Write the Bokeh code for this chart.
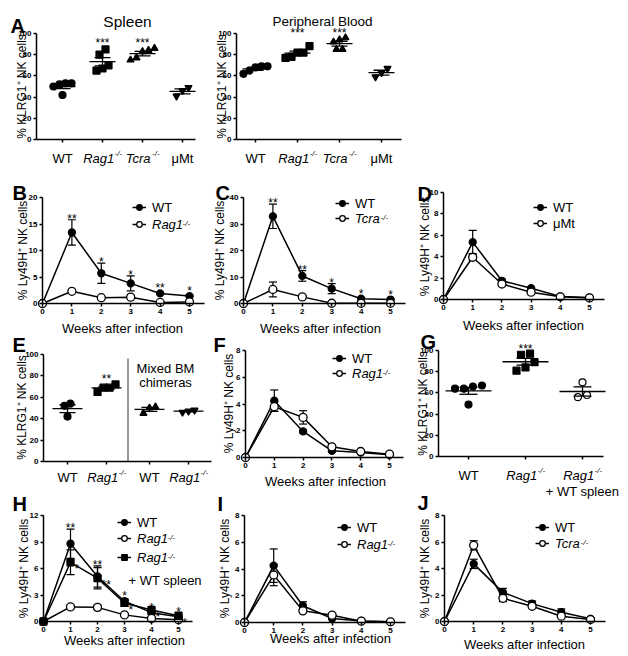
import numpy as np
from math import pi
from bokeh.plotting import figure
from bokeh.models import (Range1d, FixedTicker, Label, Legend, LegendItem, LinearAxis,
                          CustomJSTickFormatter)
from bokeh.embed import file_html
from bokeh.resources import INLINE

# ---------------------------------------------------------------- data
weeks = [0, 1, 2, 3, 4, 5]

# A  % KLRG1+ NK cells
a_spl_wt = [53, 52, 53, 50, 42]
a_spl_rag1 = [85, 80, 70, 67, 65]
a_spl_tcra = [86, 84, 83, 75, 77]
a_spl_umt = [49, 46, 41]
a_pb_wt = [69, 68, 69, 65, 62]
a_pb_rag1 = [88, 82, 82, 78, 77]
a_pb_tcra = [94, 96, 92, 85, 85]
a_pb_umt = [67, 63, 59]
a_stars = ["", "***", "***", ""]
a_labels = [("WT", "", "normal"), ("Rag1", "-/-", "italic"),
            ("Tcra", "-/-", "italic"), ("\u03bcMt", "", "normal")]

# B  WT vs Rag1-/-
b_wt_mean = [0, 13.4, 5.7, 3.8, 1.9, 1.4]
b_wt_sem = [0, 2.4, 1.9, 1.4, 0.2, 0.15]
b_rag1_mean = [0, 2.3, 1.1, 1.2, 0.2, 0.3]
b_rag1_sem = [0, 0.2, 0.2, 0.2, 0.1, 0.1]
b_stars = ["", "**", "*", "*", "**", "*"]

# C  WT vs Tcra-/-
c_wt_mean = [0, 32.9, 10.4, 5.6, 1.8, 1.5]
c_wt_sem = [0, 4.6, 2.0, 1.9, 0.4, 0.2]
c_tcra_mean = [0, 5.3, 2.5, 0.1, 0.1, 0.1]
c_tcra_sem = [0, 2.8, 0.5, 0.1, 0.1, 0.1]
c_stars = ["", "**", "**", "*", "*", "*"]

# D  WT vs muMt
d_wt_mean = [0, 5.36, 1.75, 1.05, 0.28, 0.18]
d_wt_sem = [0, 1.1, 0.15, 0.1, 0.05, 0.05]
d_umt_mean = [0, 3.95, 1.45, 0.68, 0.25, 0.15]
d_umt_sem = [0, 0.3, 0.2, 0.15, 0.05, 0.05]

# E  % KLRG1+ (intact and mixed BM chimeras)
e_wt = [54, 52, 42]
e_rag1 = [72, 69, 69, 65]
e_chim_wt = [51, 50, 45]
e_chim_rag1 = [48, 47, 46]
e_stars = ["", "**", "", ""]
e_labels = [("WT", "", "normal"), ("Rag1", "-/-", "italic"),
            ("WT", "", "normal"), ("Rag1", "-/-", "italic")]

# F  WT vs Rag1-/-
f_wt_mean = [0, 4.25, 1.95, 0.5, 0.37, 0.2]
f_wt_sem = [0, 0.8, 0.1, 0.1, 0.05, 0.05]
f_rag1_mean = [0, 3.8, 3.0, 0.8, 0.45, 0.25]
f_rag1_sem = [0, 0.35, 0.5, 0.1, 0.05, 0.05]

# G  % KLRG1+
g_wt = [67, 64, 64, 66, 49]
g_rag1 = [97, 96, 89, 84, 81]
g_rag1_wtspl = [70, 56, 58]
g_stars = ["", "***", ""]
g_labels = [("WT", "", "normal"), ("Rag1", "-/-", "italic"), ("Rag1", "-/-", "italic")]

# H  WT, Rag1-/-, Rag1-/- + WT spleen
h_wt_mean = [0, 8.8, 5.1, 2.3, 1.0, 0.55]
h_wt_sem = [0, 1.65, 1.2, 0.3, 0.2, 0.1]
h_rag1_mean = [0, 1.65, 1.6, 0.75, 0.35, 0.2]
h_rag1_sem = [0, 0.2, 0.25, 0.1, 0.05, 0.05]
h_rw_mean = [0, 6.7, 4.9, 2.1, 1.3, 0.65]
h_rw_sem = [0, 1.4, 1.2, 0.35, 0.2, 0.1]
h_stars_wt = ["", "**", "**", "*", "*", "*"]
h_stars_rw = ["", "*", "**", "*", "*", "*"]

# I  WT vs Rag1-/-
i_wt_mean = [0, 4.25, 1.25, 0.3, 0.12, 0.05]
i_wt_sem = [0, 1.25, 0.3, 0.05, 0.03, 0.02]
i_rag1_mean = [0, 3.55, 0.87, 0.55, 0.1, 0.05]
i_rag1_sem = [0, 0.8, 0.1, 0.08, 0.03, 0.02]

# J  WT vs Tcra-/-
j_wt_mean = [0, 4.35, 2.2, 1.35, 0.7, 0.2]
j_wt_sem = [0, 0.35, 0.3, 0.2, 0.25, 0.05]
j_tcra_mean = [0, 5.75, 1.75, 1.15, 0.4, 0.15]
j_tcra_sem = [0, 0.35, 0.25, 0.1, 0.1, 0.05]

klrg_ticks = [0, 20, 40, 60, 80, 100]
b_ticks = [0, 5, 10, 15, 20]
c_ticks = [0, 10, 20, 30, 40]
d_ticks = [0, 2, 4, 6, 8, 10]
f_ticks = [0, 2, 4, 6, 8]
h_ticks = [0, 3, 6, 9, 12]

# ---------------------------------------------------------------- canvas
FONT = "Liberation Sans"
TXT = 13
LW = 1.5
PW, PH = 624, 654
W1000 = {"R": 722, "a": 556, "g": 556, "1": 556, "T": 611, "c": 500, "r": 333,
         "W": 944, "\u03bc": 576, "M": 833, "t": 278, "-": 333, "/": 278, " ": 278}

# the default ranges are page pixels (y downwards); every panel has its own ranges
p = figure(width=PW, height=PH, x_range=Range1d(0, PW), y_range=Range1d(PH, 0),
           x_axis_type=None, y_axis_type=None, min_border=0,
           output_backend="svg", toolbar_location=None,
           background_fill_color="white", border_fill_color="white")
p.outline_line_color = None
p.grid.visible = False


def tw(s, size):
    return sum(W1000.get(ch, 556) for ch in s) * size / 1000.0


def text(px, py, s, size=TXT, style="normal", align="left", baseline="alphabetic", angle=0.0):
    p.add_layout(Label(x=px, y=py, text=s, text_font=FONT, text_font_size=f"{size}px",
                       text_font_style=style, text_align=align, text_baseline=baseline,
                       angle=angle, text_color="black"))


def sup_text(px, py, main, sup, size=TXT, style="normal", align="center"):
    wm = tw(main, size)
    ss = size * 0.62
    ws = tw(sup, ss) if sup else 0
    left = px - (wm + ws) / 2 if align == "center" else px
    text(left, py, main, size, style, "left")
    if sup:
        text(left + wm + 0.3, py - size * 0.4, sup, ss, style, "left")


class Panel:
    count = 0

    def __init__(self, xa, xb, ya, yb):
        Panel.count += 1
        self.xn, self.yn = f"x{Panel.count}", f"y{Panel.count}"
        self.kx = (xb[1] - xa[1]) / (xb[0] - xa[0])
        self.ky = (yb[1] - ya[1]) / (ya[0] - yb[0])
        self.x0, self.y0 = xa, ya
        p.extra_x_ranges[self.xn] = Range1d(self.X(0), self.X(PW))
        p.extra_y_ranges[self.yn] = Range1d(self.Y(PH), self.Y(0))
        self.kw = dict(x_range_name=self.xn, y_range_name=self.yn)

    def X(self, px):
        return self.x0[1] + (px - self.x0[0]) * self.kx

    def Y(self, py):
        return self.y0[1] + (self.y0[0] - py) * self.ky

    def PX(self, x):
        return self.x0[0] + (x - self.x0[1]) / self.kx

    def dx(self, d):
        return d * self.kx

    def dy(self, d):
        return d * self.ky

    def label(self, x, y, s, size, align):
        p.add_layout(Label(x=x, y=y, text=s, text_align=align, text_baseline="alphabetic",
                           text_font=FONT, text_font_size=f"{size}px", text_color="black",
                           **self.kw))


def time_panel(x0px, x5px, y0px, ytpx, ymax):
    return Panel((x0px, 0.0), (x5px, 5.0), (y0px, 0.0), (ytpx, float(ymax)))


def cat_panel(positions, c1px, cnpx, y0px, y100px, axl, axr):
    P = Panel((c1px, float(positions[0])), (cnpx, float(positions[-1])),
              (y0px, 0.0), (y100px, 100.0))
    P.positions = positions
    P.axl, P.axr = P.X(axl), P.X(axr)
    return P


def style_axis(ax):
    ax.axis_line_width = LW
    ax.axis_line_color = "black"
    ax.major_tick_line_width = LW
    ax.major_tick_line_color = "black"
    ax.major_tick_out = 3
    ax.major_tick_in = 0
    ax.minor_tick_line_color = None
    ax.major_label_text_font = FONT
    ax.major_label_text_font_size = "8px"
    ax.major_label_text_font_style = "bold"
    ax.major_label_text_color = "black"
    ax.major_label_standoff = 2


def axes(P, xticks, yticks, xb, yb, yfix, xlabels=True):
    xa = LinearAxis(ticker=FixedTicker(ticks=xticks), bounds=xb, fixed_location=0, **P.kw)
    ya = LinearAxis(ticker=FixedTicker(ticks=yticks), bounds=yb, fixed_location=yfix, **P.kw)
    style_axis(xa)
    style_axis(ya)
    if not xlabels:
        xa.formatter = CustomJSTickFormatter(code="return ''")
    p.add_layout(xa, "below")
    p.add_layout(ya, "left")


def series(P, x, m, s, filled, marker="circle", size=7):
    x = np.array(x, float)
    m = np.array(m, float)
    s = np.array(s, float)
    ln = p.line(x, m, line_color="black", line_width=LW, **P.kw)
    cap = P.dx(4)
    sel = s > 0
    xs, ms, ss = x[sel], m[sel], s[sel]
    for x0, y0, x1, y1 in [(xs, ms - ss, xs, ms + ss),
                           (xs - cap, ms + ss, xs + cap, ms + ss),
                           (xs - cap, ms - ss, xs + cap, ms - ss)]:
        p.segment(x0, y0, x1, y1, line_color="black", line_width=1.2, **P.kw)
    sc = p.scatter(x, m, marker=marker, size=size,
                   fill_color="black" if filled else "white",
                   line_color="black", line_width=1.3, **P.kw)
    return [ln, sc]


def legend(rends, label, tx, ty, italic=False, sup=""):
    GW, SO, LH = 14, 6, 16
    leg = Legend(items=[LegendItem(label=label, renderers=rends)],
                 location=(tx - GW - SO, PH - ty - LH / 2),
                 glyph_width=GW, glyph_height=LH, label_height=LH, label_standoff=SO,
                 padding=0, margin=0, spacing=0, border_line_color=None,
                 background_fill_alpha=0, label_text_font=FONT,
                 label_text_font_size=f"{TXT}px",
                 label_text_font_style="italic" if italic else "normal",
                 label_text_baseline="middle", label_text_color="black")
    p.add_layout(leg)
    if sup:
        base = ty + 0.35 * TXT
        text(tx + tw(label, TXT) - 1.0, base - TXT * 0.4, sup, TXT * 0.62,
             "italic" if italic else "normal")


def stars_above(P, x, m, s, stars, size=12):
    for xi, mi, si, st in zip(x, m, s, stars):
        if st:
            P.label(xi, max(mi + si, mi + P.dy(4)) + P.dy(1), st, size, "center")


def stars_right(P, x, m, stars, size=12):
    for xi, mi, st in zip(x, m, stars):
        if st:
            P.label(xi + P.dx(4), mi - P.dy(7), st, size, "left")


def spread(P, vals, step_px, thr_px):
    vals = np.asarray(vals, float)
    order = list(np.argsort(vals))
    clusters = [[order[0]]]
    for a, b in zip(order[:-1], order[1:]):
        if (vals[b] - vals[a]) / P.ky < thr_px:
            clusters[-1].append(b)
        else:
            clusters.append([b])
    offs = np.zeros(len(vals))
    for cl in clusters:
        n = len(cl)
        for i, idx in enumerate(cl):
            offs[idx] = P.dx((i - (n - 1) / 2.0) * step_px)
    return offs


def group(P, pos, vals, marker, filled, size, mean_hw, sem_hw, step):
    vals = np.asarray(vals, float)
    offs = spread(P, vals, step, 7)
    p.scatter(pos + offs, vals, marker=marker, size=size,
              fill_color="black" if filled else "white", line_color="black",
              line_width=1.2, **P.kw)
    m = vals.mean()
    s = vals.std(ddof=1) / np.sqrt(len(vals))
    hw, sw = P.dx(mean_hw), P.dx(sem_hw)
    p.segment([pos - hw, pos - sw, pos - sw, pos], [m, m + s, m - s, m - s],
              [pos + hw, pos + sw, pos + sw, pos], [m, m + s, m - s, m + s],
              line_color="black", line_width=1.3, **P.kw)


def cat_stars(P, groups, stars, size=12):
    top = max(max(g) for g in groups)
    for pos, st in zip(P.positions, stars):
        if st:
            P.label(pos, top + P.dy(5), st, size, "center")


def cat_labels(P, labels, base):
    for pos, (main, sup, style) in zip(P.positions, labels):
        sup_text(P.PX(pos), base, main, sup, TXT, style)


def ylab(cx, cy, s):
    text(cx, cy, s, 12, "normal", "center", "middle", pi / 2)


def letter(px, py, s):
    text(px, py, s, 20, "bold", "left", "alphabetic")


KL = "% KLRG1\u207a NK cells"
LY = "% Ly49H\u207a NK cells"
WK = "Weeks after infection"
MARK4 = ["circle", "square", "triangle", "inverted_triangle"]

# ---------------------------------------------------------------- A spleen
A = cat_panel([1, 2, 3, 4], 62, 182, 139, 33, 36, 195)
axes(A, A.positions, klrg_ticks, (A.axl, A.axr), (0, 100), A.axl, xlabels=False)
for pos, vals, mk in zip(A.positions, [a_spl_wt, a_spl_rag1, a_spl_tcra, a_spl_umt], MARK4):
    group(A, pos, vals, mk, True, 7, 13, 8, 6)
cat_stars(A, [a_spl_wt, a_spl_rag1, a_spl_tcra, a_spl_umt], a_stars)
cat_labels(A, a_labels, 158)
ylab(21, 86, KL)
letter(10, 25, "A")
text(127, 21, "Spleen", 15.5, "normal", "center")

# ---------------------------------------------------------------- A blood
PB = cat_panel([1, 2, 3, 4], 255, 381, 139, 33, 236, 401)
axes(PB, PB.positions, klrg_ticks, (PB.axl, PB.axr), (0, 100), PB.axl, xlabels=False)
for pos, vals, mk in zip(PB.positions, [a_pb_wt, a_pb_rag1, a_pb_tcra, a_pb_umt], MARK4):
    group(PB, pos, vals, mk, True, 7, 13, 8, 6)
cat_stars(PB, [a_pb_wt, a_pb_rag1, a_pb_tcra, a_pb_umt], a_stars)
cat_labels(PB, a_labels, 158)
ylab(221, 86, KL)
text(322, 21, "Peripheral Blood", 13.5, "normal", "center")

# ---------------------------------------------------------------- B
B = time_panel(42, 189, 303, 197, 20)
axes(B, weeks, b_ticks, (0, 5.5), (0, 20), 0)
rb1 = series(B, weeks, b_wt_mean, b_wt_sem, True)
rb2 = series(B, weeks, b_rag1_mean, b_rag1_sem, False, size=8)
stars_above(B, weeks, b_wt_mean, b_wt_sem, b_stars)
legend(rb1, "WT", 152, 207)
legend(rb2, "Rag1", 152, 224, italic=True, sup="-/-")
ylab(22, 250, LY)
text(122, 328, WK, TXT, "normal", "center")
letter(12, 192, "B")

# ---------------------------------------------------------------- C
C = time_panel(243, 390, 303, 197, 40)
axes(C, weeks, c_ticks, (0, 5.5), (0, 40), 0)
rc1 = series(C, weeks, c_wt_mean, c_wt_sem, True)
rc2 = series(C, weeks, c_tcra_mean, c_tcra_sem, False, size=8)
stars_above(C, weeks, c_wt_mean, c_wt_sem, c_stars)
legend(rc1, "WT", 355, 203)
legend(rc2, "Tcra", 355, 218, italic=True, sup="-/-")
ylab(219, 250, LY)
text(320, 328, WK, TXT, "normal", "center")
letter(215, 192, "C")

# ---------------------------------------------------------------- D
D = time_panel(443, 589, 299, 192, 10)
axes(D, weeks, d_ticks, (0, 5.5), (0, 10), 0)
rd1 = series(D, weeks, d_wt_mean, d_wt_sem, True)
rd2 = series(D, weeks, d_umt_mean, d_umt_sem, False, size=8)
legend(rd1, "WT", 553, 207)
legend(rd2, "\u03bcMt", 553, 223)
ylab(424, 246, LY)
text(523, 325, WK, TXT, "normal", "center")
letter(417, 193, "D")

# ---------------------------------------------------------------- E
E = cat_panel([1, 2, 3.1, 4.1], 67, 188, 461, 354, 43, 211)
axes(E, E.positions, klrg_ticks, (E.axl, E.axr), (0, 100), E.axl, xlabels=False)
for pos, vals, mk in zip(E.positions, [e_wt, e_rag1, e_chim_wt, e_chim_rag1], MARK4):
    group(E, pos, vals, mk, True, 7, 15, 8, 6)
mid = (E.positions[1] + E.positions[2]) / 2
p.segment([mid], [0], [mid], [E.Y(358)], line_color="#333333", line_width=1, **E.kw)
cat_stars(E, [e_wt, e_rag1, e_chim_wt, e_chim_rag1], e_stars)
cat_labels(E, e_labels, 477)
text(165, 368, "Mixed BM", TXT, "normal", "center")
text(165, 382, "chimeras", TXT, "normal", "center")
ylab(21, 407, KL)
letter(12, 344, "E")

# ---------------------------------------------------------------- F
F = time_panel(245, 389, 457, 350, 8)
axes(F, weeks, f_ticks, (0, 5.5), (0, 8), 0)
rf1 = series(F, weeks, f_wt_mean, f_wt_sem, True)
rf2 = series(F, weeks, f_rag1_mean, f_rag1_sem, False, size=8)
legend(rf1, "WT", 352, 358)
legend(rf2, "Rag1", 352, 373, italic=True, sup="-/-")
ylab(228, 403, LY)
text(325, 481, WK, TXT, "normal", "center")
letter(213, 344, "F")

# ---------------------------------------------------------------- G
G = cat_panel([1, 2, 3], 468, 582, 456, 350, 438, 603)
axes(G, G.positions, klrg_ticks, (G.axl, G.axr), (0, 100), G.axl, xlabels=False)
for pos, vals, mk, fill in zip(G.positions, [g_wt, g_rag1, g_rag1_wtspl],
                               ["circle", "square", "circle"], [True, True, False]):
    group(G, pos, vals, mk, fill, 7, 23, 9, 9)
cat_stars(G, [g_wt, g_rag1, g_rag1_wtspl], g_stars)
cat_labels(G, g_labels, 475)
text(582, 491, "+ WT spleen", TXT, "normal", "center")
ylab(422, 403, KL)
letter(420, 341, "G")

# ---------------------------------------------------------------- H
H = time_panel(43, 178, 621, 515, 12)
axes(H, weeks, h_ticks, (0, 5.5), (0, 12), 0)
rh1 = series(H, weeks, h_wt_mean, h_wt_sem, True)
rh2 = series(H, weeks, h_rag1_mean, h_rag1_sem, False, size=8)
rh3 = series(H, weeks, h_rw_mean, h_rw_sem, True, marker="square", size=7)
stars_above(H, weeks, h_wt_mean, h_wt_sem, h_stars_wt)
stars_right(H, weeks, h_rw_mean, h_stars_rw)
legend(rh1, "WT", 137, 522)
legend(rh2, "Rag1", 137, 538, italic=True, sup="-/-")
legend(rh3, "Rag1", 137, 557, italic=True, sup="-/-")
text(128, 575 + 0.35 * TXT, "+ WT spleen", TXT, "normal", "left")
ylab(23, 568, LY)
text(124, 640, WK, TXT, "normal", "center")
letter(12, 503, "H")

# ---------------------------------------------------------------- I
I = time_panel(244, 390, 622, 515, 8)
axes(I, weeks, f_ticks, (0, 5.5), (0, 8), 0)
ri1 = series(I, weeks, i_wt_mean, i_wt_sem, True)
ri2 = series(I, weeks, i_rag1_mean, i_rag1_sem, False, size=8)
legend(ri1, "WT", 357, 527)
legend(ri2, "Rag1", 357, 544, italic=True, sup="-/-")
ylab(224, 568, LY)
text(330, 638, WK, TXT, "normal", "center")
letter(217, 503, "I")

# ---------------------------------------------------------------- J
J = time_panel(444, 590, 621, 515, 8)
axes(J, weeks, f_ticks, (0, 5.5), (0, 8), 0)
rj1 = series(J, weeks, j_wt_mean, j_wt_sem, True)
rj2 = series(J, weeks, j_tcra_mean, j_tcra_sem, False, size=8)
legend(rj1, "WT", 555, 527)
legend(rj2, "Tcra", 555, 543, italic=True, sup="-/-")
ylab(424, 568, LY)
text(524, 644, WK, TXT, "normal", "center")
letter(417, 502, "J")

open("out.html", "w").write(file_html(p, INLINE, "Figure"))
